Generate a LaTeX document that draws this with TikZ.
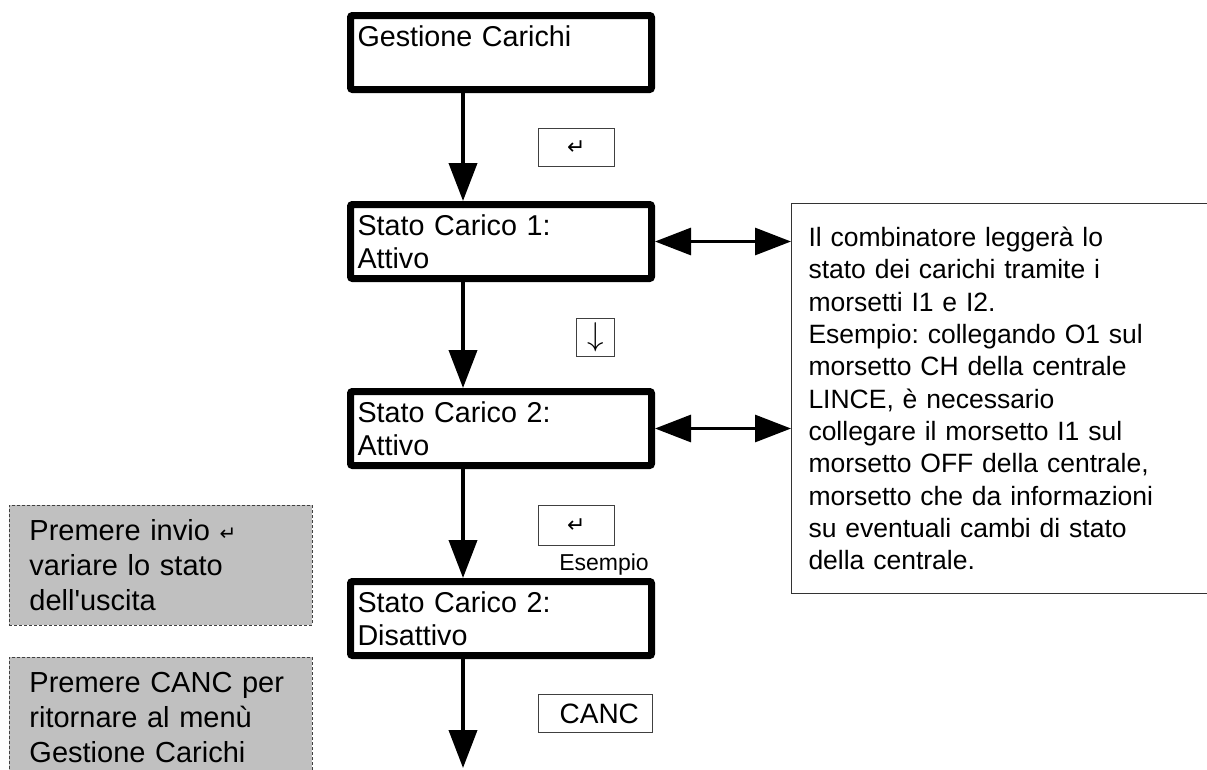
\documentclass[tikz,border=0pt]{standalone}
\usepackage{fontspec}
\setmainfont{Liberation Sans}
\newfontfamily\arrowfont{DejaVu Sans}
\newfontfamily\plainfont[Ligatures=ResetAll]{Liberation Sans}
\usepackage{graphicx}
\usepackage{tikz}
\usetikzlibrary{arrows.meta}
\definecolor{notegray}{RGB}{192, 192, 192}
\definecolor{keyline}{RGB}{64, 64, 64}
\frenchspacing

\begin{document}
\begin{tikzpicture}[x=1pt, y=-1pt,
    menubox/.style={draw, line width=7pt, rounded corners=2pt, anchor=north west,
      minimum width=301pt, minimum height=74pt, text width=287pt, inner xsep=7pt,
      align=left, font=\fontsize{28.7}{33}\selectfont},
    keybox/.style={draw=keyline, line width=0.8pt, anchor=north west, inner sep=0pt,
      minimum height=38pt},
    notebox/.style={draw=keyline, line width=0.9pt, dash pattern=on 3pt off 2pt,
      fill=notegray, anchor=north west, minimum width=303pt, minimum height=120pt,
      text width=263pt, inner xsep=20pt, align=left, font=\fontsize{29}{35}\selectfont},
    flowarrow/.style={line width=4pt, -{Triangle[length=38pt, width=28pt]}},
    linkarrow/.style={line width=3pt,
      {Triangle[length=36pt, width=27pt]}-{Triangle[length=36pt, width=27pt]}}]
  \useasboundingbox (0,0) rectangle (1207,769);
  \clip (0,0) rectangle (1207,769);

  % menu screens
  \node[menubox] (gest) at (347,12) {Gestione Carichi\\~};
  \node[menubox] (st1) at (347,201) {Stato Carico 1:\\Attivo};
  \node[menubox] (st2) at (347,388) {Stato Carico 2:\\Attivo};
  \node[menubox] (dis) at (347,578) {Stato Carico 2:\\Disattivo};

  % keys
  \node[keybox, minimum width=76pt] (kenter1) at (538,128)
    {\arrowfont\fontsize{22}{22}\selectfont ↵};
  \node[keybox, minimum width=38pt] (kdown) at (576,318)
    {\raisebox{-3pt}{\scalebox{3.3}{$\downarrow$}}};
  \node[keybox, minimum width=76pt, minimum height=40pt] (kenter2) at (538,505)
    {\arrowfont\fontsize{22}{22}\selectfont ↵};
  \node[keybox, minimum width=114pt] (kcanc) at (538,694)
    {\fontsize{28}{28}\selectfont\ CANC};
  \node[font=\fontsize{23}{23}\selectfont] (esempio) at (604,565) {Esempio};

  % note on the right
  \node[draw=black!80, line width=1pt, anchor=north west, minimum width=440pt,
    minimum height=390pt, text width=406pt, inner xsep=17pt, align=left,
    font=\fontsize{26.5}{32.3}\selectfont] (info) at (791,203)
    {Il combinatore leggerà lo\\
     stato dei carichi tramite i\\
     morsetti I1 e I2.\\
     Esempio: collegando O1 sul\\
     morsetto CH della centrale\\
     LINCE, è necessario\\
     collegare il morsetto I1 sul\\
     morsetto OFF della centrale,\\
     morsetto che da informazioni\\
     su eventuali cambi di stato\\
     della centrale.};

  % notes on the left
  \node[notebox] (note1) at (9,505)
    {Premere invio {\arrowfont\fontsize{20}{20}\selectfont ↵}\\
     variare lo stato\\
     dell{\plainfont\symbol{39}}uscita};
  \node[notebox] (note2) at (9,657)
    {Premere CANC per\\
     ritornare al menù\\
     Gestione Carichi};

  % connectors
  \coordinate (colx) at (463,0);
  \coordinate (endpt) at (463,768);
  \foreach \a/\b in {gest/st1, st1/st2, st2/dis}
    \draw[flowarrow] (\a.south -| colx) -- (\b.north -| colx);
  \draw[flowarrow] (dis.south -| colx) -- (endpt);
  \foreach \s in {st1, st2}
    \draw[linkarrow] (\s.east) -- (info.west |- \s.east);
\end{tikzpicture}
\end{document}
